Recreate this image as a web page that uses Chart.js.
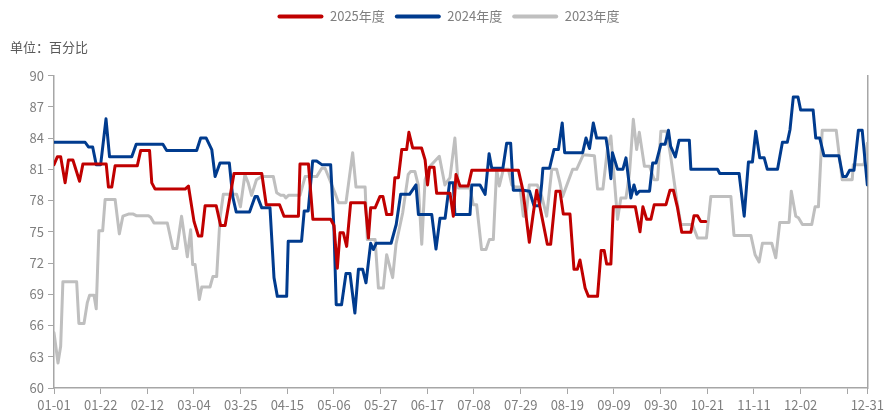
<!DOCTYPE html>
<html>
<head>
<meta charset="utf-8">
<script src="https://cdn.jsdelivr.net/npm/chart.js@4/dist/chart.umd.min.js"></script>
<style>
    body { margin: 0; background: #fff; }
</style>
</head>
<body>
<canvas id="utilization-chart" width="887" height="411"></canvas>
<script>
// day index from 01-01 (leap-year calendar) and value at each vertex of the line
const days2025 = [0, 1.5, 3, 5, 6.5, 8.5, 11.5, 13, 23.5, 24.5, 26, 27.5, 37.5, 39, 43, 44, 45.5, 59, 60.5, 63, 65, 66.5, 68, 73, 75, 77, 81, 93.5, 95.5, 101.5, 103.5, 110, 110.7, 114.5, 116.5, 124.5, 126, 127.5, 128.7, 130.2, 131.7, 133.5, 140, 141.5, 142.5, 144.5, 146.7, 148, 149.7, 152, 153.4, 155, 156.5, 158.7, 159.7, 161.4, 165.4, 167, 168.1, 169, 171, 172.2, 178.2, 179.7, 180.9, 182.7, 186.4, 188, 209, 211, 213.9, 215.5, 217.2, 222, 223.5, 225.9, 227.7, 229.2, 232.2, 234, 235.5, 236.7, 239, 240.5, 244.6, 246.2, 247.6, 248.7, 250.6, 251.7, 261.6, 263.7, 265, 266.7, 268.6, 270.1, 275.4, 277.2, 278.7, 280.5, 282.5, 286.6, 288, 289.6, 291, 293.3];
const values2025 = [81.45, 82.2, 82.2, 79.7, 81.9, 81.9, 79.85, 81.5, 81.5, 79.3, 79.3, 81.35, 81.35, 82.8, 82.8, 79.7, 79.1, 79.1, 79.4, 76.0, 74.6, 74.6, 77.5, 77.5, 75.6, 75.6, 80.6, 80.6, 77.6, 77.6, 76.5, 76.5, 81.5, 81.5, 76.2, 76.2, 75.6, 71.5, 74.9, 74.9, 73.6, 77.8, 77.8, 74.4, 77.3, 77.3, 78.4, 78.4, 76.65, 76.65, 80.2, 80.2, 82.9, 82.9, 84.55, 83.05, 83.05, 81.9, 79.5, 81.2, 81.2, 78.7, 78.7, 76.5, 80.5, 79.4, 79.4, 80.9, 80.9, 79.0, 74.0, 76.5, 79.0, 73.8, 73.8, 78.9, 78.9, 76.7, 76.7, 71.4, 71.4, 72.3, 69.6, 68.8, 68.8, 73.2, 73.2, 71.9, 71.9, 77.4, 77.4, 75.0, 77.4, 76.2, 76.2, 77.6, 77.6, 79.0, 79.0, 77.4, 74.95, 74.95, 76.55, 76.55, 76.0, 76.0];

const days2024 = [0, 14, 15.5, 17.4, 19, 21, 23.4, 25, 35, 37, 49, 50.7, 64.2, 66, 68.5, 71, 72.5, 74.7, 78.9, 80.4, 82, 88, 90.5, 91.5, 93.5, 97.2, 99, 100.5, 104.7, 105.4, 111.4, 112.6, 114.4, 116.4, 118.2, 120.5, 124.5, 126, 127, 129.4, 131.4, 133.2, 135.4, 137, 138.9, 140.4, 142.5, 143.7, 145, 151.7, 154, 156, 160, 162.9, 164, 170, 171.9, 173.7, 176, 178, 179.7, 180.4, 187.2, 188, 191.7, 194, 195.8, 197, 202, 203.7, 205.5, 206.7, 211.2, 214, 216, 218.5, 219.5, 220, 223, 225, 227, 228.7, 229.8, 237.9, 239.4, 241, 242.7, 244.2, 248.4, 249.2, 250.6, 251.3, 253.6, 256, 257.4, 259.6, 261, 262.2, 263.4, 268, 269.4, 270.9, 273.1, 275, 276.5, 277.5, 279.6, 281.3, 285.9, 286.6, 298.6, 299.6, 308.3, 310.6, 312.5, 314.3, 315.8, 317.6, 319.6, 321, 325.6, 327.8, 330, 331.2, 332.7, 334.8, 336, 341.6, 342.8, 344.6, 346.5, 353.2, 355, 356.5, 358, 360, 362, 363.7, 366];
const values2024 = [83.6, 83.6, 83.15, 83.15, 81.45, 81.45, 85.85, 82.2, 82.2, 83.4, 83.4, 82.8, 82.8, 84.0, 84.0, 82.9, 80.3, 81.6, 81.6, 78.4, 76.9, 76.9, 78.4, 78.4, 77.3, 77.3, 70.6, 68.8, 68.8, 74.1, 74.1, 77.0, 77.0, 81.8, 81.8, 81.45, 81.45, 75.2, 68.0, 68.0, 71.0, 71.0, 67.2, 71.4, 71.4, 70.1, 73.9, 73.3, 73.9, 73.9, 75.7, 78.6, 78.6, 79.5, 76.65, 76.65, 73.35, 76.3, 76.3, 79.7, 79.7, 76.65, 76.65, 79.5, 79.5, 78.6, 82.5, 81.1, 81.1, 83.5, 83.5, 79.0, 79.0, 78.9, 77.5, 77.5, 79.7, 81.1, 81.1, 82.9, 82.9, 85.45, 82.6, 82.6, 84.0, 83.0, 85.45, 84.0, 84.0, 82.9, 80.1, 82.6, 81.0, 81.0, 82.1, 78.25, 79.5, 78.6, 78.9, 78.9, 81.6, 81.6, 83.4, 83.4, 84.75, 83.2, 82.2, 83.8, 83.8, 81.0, 81.0, 80.6, 80.6, 76.5, 81.7, 81.7, 84.65, 82.1, 82.1, 81.0, 81.0, 83.6, 83.6, 84.8, 87.95, 87.95, 86.7, 86.7, 84.0, 84.0, 82.3, 82.3, 80.3, 80.3, 80.9, 80.9, 84.75, 84.75, 79.5];

const days2023 = [0, 1.8, 3, 4, 10.2, 11.2, 13.5, 15, 16, 18, 19, 20.2, 21.9, 23, 27.5, 29.4, 31, 33.5, 35.7, 37, 42.5, 43.5, 45, 51, 53.5, 55.3, 57.4, 60, 61.5, 62.4, 63.5, 65.4, 66.5, 70.2, 71.5, 73.2, 74.7, 76.2, 82.2, 83.9, 85.9, 87.4, 88.9, 91.1, 93.4, 98.7, 100.2, 102, 103.5, 104.3, 105.5, 110.7, 113, 118.2, 120.5, 122, 126.5, 128, 131.4, 132.9, 134.4, 135.9, 140, 141, 144.5, 146, 148.2, 149.7, 152.4, 153.9, 156.9, 159.4, 160.5, 162.4, 163.9, 165.5, 167, 169.2, 173.4, 175.9, 178.2, 180.4, 182, 187.2, 188.7, 190.2, 192.4, 194.4, 195.9, 197.7, 199.2, 200.4, 202.2, 204.5, 206, 207.5, 209.7, 211.2, 212.4, 213.9, 217.5, 219.5, 221.7, 224, 226.2, 227.7, 228.9, 233.4, 235.2, 238.2, 243.2, 244.6, 247, 249.2, 250.6, 253.6, 255.1, 257.4, 259, 260.7, 262.2, 263.4, 265.7, 268, 270.1, 271.6, 273.1, 275.7, 277.6, 280.2, 282.1, 287.3, 289.6, 293.6, 295.6, 304.6, 306, 313.6, 315.5, 317.3, 318.8, 323, 324.8, 326.6, 330.8, 331.8, 333.8, 335, 336.8, 341, 342.5, 344, 345.7, 352, 354.7, 359.2, 359.7, 364.5, 366];
const values2023 = [65.3, 62.4, 64.0, 70.2, 70.2, 66.2, 66.2, 68.2, 68.9, 68.9, 67.6, 75.1, 75.1, 78.1, 78.1, 74.8, 76.5, 76.7, 76.7, 76.55, 76.55, 76.4, 75.85, 75.85, 73.4, 73.4, 76.5, 72.6, 75.2, 71.85, 71.85, 68.5, 69.7, 69.7, 70.7, 70.7, 76.3, 78.6, 78.6, 77.4, 80.5, 79.7, 78.5, 80.0, 80.3, 80.3, 78.75, 78.5, 78.5, 78.25, 78.5, 78.5, 80.3, 80.3, 81.1, 81.1, 78.7, 77.8, 77.8, 80.2, 82.6, 79.3, 79.3, 74.25, 74.25, 69.6, 69.6, 72.8, 70.6, 73.8, 76.8, 80.5, 80.8, 80.8, 79.5, 73.8, 80.0, 81.3, 82.25, 79.5, 80.2, 84.0, 79.2, 79.2, 77.6, 77.6, 73.3, 73.3, 74.25, 74.25, 81.0, 79.4, 81.0, 81.0, 79.5, 79.3, 79.3, 76.5, 76.5, 79.5, 79.5, 78.4, 76.5, 81.0, 81.0, 79.7, 78.4, 81.0, 81.0, 82.4, 82.3, 79.1, 79.1, 83.2, 84.2, 76.2, 78.25, 78.25, 80.7, 85.8, 82.9, 84.55, 81.3, 81.3, 80.0, 80.0, 84.65, 84.65, 82.1, 78.1, 75.7, 75.7, 74.4, 74.4, 78.4, 78.4, 74.65, 74.65, 72.8, 72.1, 73.9, 73.9, 72.5, 75.9, 75.9, 78.9, 76.5, 76.35, 75.7, 75.7, 77.4, 77.4, 84.75, 84.75, 80.0, 80.0, 81.45, 81.45, 83.5];

const xTickDays = [0, 21, 42, 63, 84, 105, 126, 147, 168, 189, 210, 231, 252, 273, 294, 315, 336, 357, 366];
const xTickLabels = ['01-01', '01-22', '02-12', '03-04', '03-25', '04-15', '05-06', '05-27', '06-17', '07-08', '07-29', '08-19', '09-09', '09-30', '10-21', '11-11', '12-02', '', '12-31'];

const FONT = "'Noto Sans CJK SC', 'Liberation Sans', sans-serif";
const AXIS_COLOR = '#a6a6a6';
const TEXT_COLOR = '#7f7f7f';

function toPoints(days, values) {
    return days.map((d, i) => ({ x: d, y: values[i] }));
}

function lineDataset(label, days, values, color) {
    return {
        label: label,
        data: toPoints(days, values),
        borderColor: color,
        backgroundColor: color,
        borderWidth: 3,
        borderJoinStyle: 'round',
        borderCapStyle: 'round',
        pointRadius: 0,
        tension: 0
    };
}

const context = document.getElementById('utilization-chart').getContext('2d');
const chart = new Chart(context, {
    type: 'line',
    data: {
        datasets: [
            lineDataset('2025年度', days2025, values2025, '#c00000'),
            lineDataset('2024年度', days2024, values2024, '#003b8e'),
            lineDataset('2023年度', days2023, values2023, '#bfbfbf')
        ]
    },
    options: {
        responsive: false,
        animation: false,
        devicePixelRatio: 1,
        layout: {
            padding: { left: 10, right: 0, top: 0, bottom: 0 }
        },
        plugins: {
            tooltip: { enabled: false },
            legend: {
                position: 'top',
                align: 'center',
                labels: {
                    font: { family: FONT, size: 13 },
                    color: TEXT_COLOR,
                    boxWidth: 46,
                    boxHeight: 4,
                    padding: 10,
                    useBorderRadius: true,
                    borderRadius: 2,
                    generateLabels: (c) => Chart.defaults.plugins.legend.labels.generateLabels(c)
                        .map(item => Object.assign(item, { lineWidth: 0 }))
                }
            },
            title: {
                display: true,
                text: '单位：百分比',
                align: 'start',
                position: 'top',
                weight: 500,
                color: '#595959',
                font: { family: FONT, size: 13, weight: 'normal' },
                padding: { top: 6, bottom: 21 }
            }
        },
        scales: {
            x: {
                type: 'linear',
                min: 0,
                max: 366,
                afterBuildTicks: (scale) => {
                    scale.ticks = xTickDays.map(v => ({ value: v }));
                },
                afterFit: (scale) => {
                    scale.height = 23;
                },
                ticks: {
                    autoSkip: false,
                    maxRotation: 0,
                    padding: 3,
                    color: TEXT_COLOR,
                    font: { family: FONT, size: 13 },
                    callback: (value) => {
                        let idx = xTickDays.indexOf(value);
                        return idx < 0 ? '' : xTickLabels[idx];
                    }
                },
                grid: {
                    drawOnChartArea: false,
                    drawTicks: true,
                    tickLength: 6,
                    color: AXIS_COLOR
                },
                border: { color: AXIS_COLOR, width: 1.5 }
            },
            y: {
                min: 60,
                max: 90,
                afterFit: (scale) => {
                    scale.width = 44;
                },
                ticks: {
                    stepSize: 3,
                    padding: 4,
                    color: TEXT_COLOR,
                    font: { family: FONT, size: 13 }
                },
                grid: {
                    drawOnChartArea: false,
                    drawTicks: true,
                    tickLength: 6,
                    color: AXIS_COLOR
                },
                border: { color: AXIS_COLOR, width: 1.5 }
            },
            yRight: {
                position: 'right',
                min: 60,
                max: 90,
                afterFit: (scale) => {
                    scale.width = 18;
                },
                ticks: { display: false },
                grid: { drawOnChartArea: false, drawTicks: false },
                border: { color: AXIS_COLOR, width: 1.5 }
            }
        }
    }
});
</script>
</body>
</html>
